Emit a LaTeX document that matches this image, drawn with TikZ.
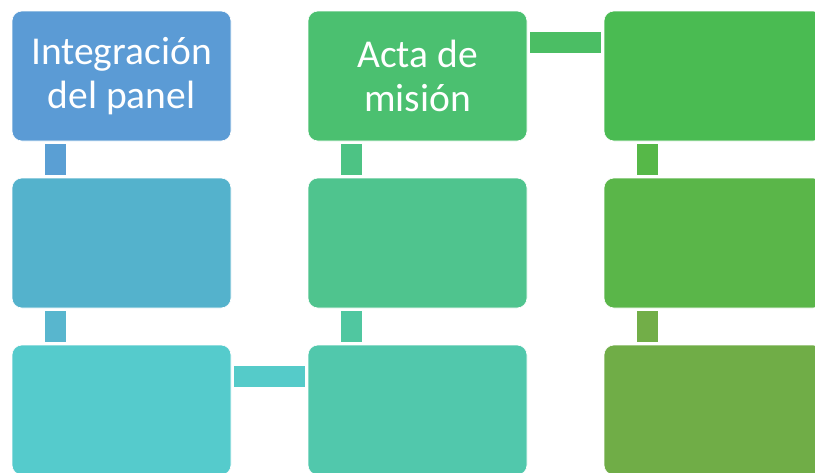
\documentclass[tikz,border=0pt]{standalone}
\usepackage{fontspec}
\setmainfont{Carlito}
\usepackage{tikz}
\definecolor{stepA}{HTML}{5B9BD5}
\definecolor{stepB}{HTML}{54B2CC}
\definecolor{stepC}{HTML}{55CBCC}
\definecolor{stepD}{HTML}{51C8AC}
\definecolor{stepE}{HTML}{4FC48E}
\definecolor{stepF}{HTML}{4BC070}
\definecolor{stepG}{HTML}{4ABB52}
\definecolor{stepH}{HTML}{5AB649}
\definecolor{stepI}{HTML}{70AD47}
\definecolor{linkAB}{HTML}{5A9FD4}
\definecolor{linkBC}{HTML}{58B6CE}
\definecolor{linkCD}{HTML}{55CBC9}
\definecolor{linkDE}{HTML}{50C7A0}
\definecolor{linkEF}{HTML}{4DC384}
\definecolor{linkFG}{HTML}{4BBE64}
\definecolor{linkGH}{HTML}{56B848}
\definecolor{linkHI}{HTML}{72AE48}
\tikzstyle{box}=[rectangle, rounded corners=10pt, minimum width=219pt, minimum height=130pt, inner sep=0pt, draw=white, line width=0.6pt, text=white, align=center, font=\fontsize{39.5}{43.5}\selectfont]
\tikzstyle{link}=[line width=21pt, shorten <=3pt, shorten >=3pt]

\begin{document}
\begin{tikzpicture}[x=1pt, y=-1pt]
		   \useasboundingbox (0, 0) rectangle (815, 472);
		   \clip (0, 0) rectangle (815, 472);
		   \begin{scope}
			   \node (a1) at (121.5, 76)[box, fill=stepA] {Integración\\del panel};
			   \node (a2) at (121.5, 243)[box, fill=stepB] {};
			   \node (a3) at (121.5, 410)[box, fill=stepC] {};

			   \node (b3) at (417.5, 410)[box, fill=stepD] {};
			   \node (b2) at (417.5, 243)[box, fill=stepE] {};
			   \node (b1) at (417.5, 76)[box, fill=stepF] {Acta de\\misión};

			   \node (c1) at (713.5, 76)[box, fill=stepG] {};
			   \node (c2) at (713.5, 243)[box, fill=stepH] {};
			   \node (c3) at (713.5, 410)[box, fill=stepI] {};
		   \end{scope}
		   \begin{scope}
			   \draw [link, linkAB] ([xshift=43.5pt]a1.south west) -- ([xshift=43.5pt]a2.north west);
			   \draw [link, linkBC] ([xshift=43.5pt]a2.south west) -- ([xshift=43.5pt]a3.north west);
			   \draw [link, linkCD] ([yshift=-31.5pt]a3.north east) -- ([yshift=-31.5pt]b3.north west);
			   \draw [link, linkDE] ([xshift=43.5pt]b3.north west) -- ([xshift=43.5pt]b2.south west);
			   \draw [link, linkEF] ([xshift=43.5pt]b2.north west) -- ([xshift=43.5pt]b1.south west);
			   \draw [link, linkFG] ([yshift=-31.5pt]b1.north east) -- ([yshift=-31.5pt]c1.north west);
			   \draw [link, linkGH] ([xshift=43.5pt]c1.south west) -- ([xshift=43.5pt]c2.north west);
			   \draw [link, linkHI] ([xshift=43.5pt]c2.south west) -- ([xshift=43.5pt]c3.north west);
		   \end{scope}
	   \end{tikzpicture}
\end{document}
